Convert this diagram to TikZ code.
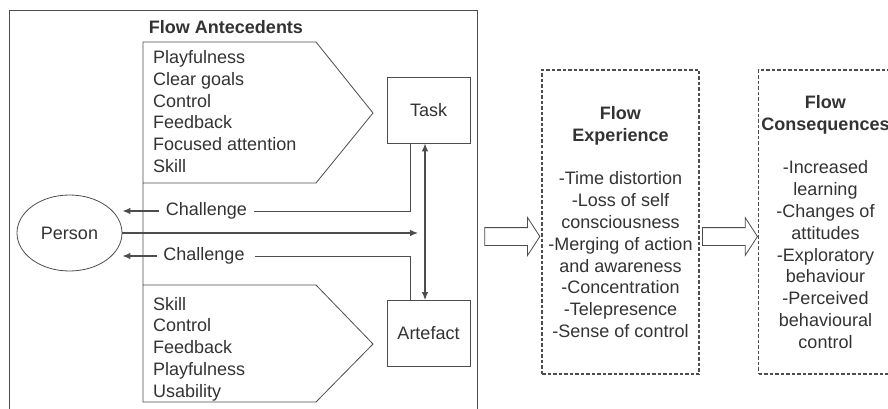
\documentclass[tikz,border=0pt]{standalone}
\usepackage{fontspec}
\setmainfont{Liberation Sans}
\usetikzlibrary{positioning,calc,shapes.geometric,shapes.arrows,arrows.meta}
\definecolor{ink}{HTML}{333333}
\definecolor{rule}{HTML}{4D4D4D}

\begin{document}
\begin{tikzpicture}[x=1pt,y=-1pt,font=\fontsize{18}{21.8}\selectfont,text=ink,
  >={Latex[length=8pt,width=6.5pt]},
  link/.style={draw=rule,line width=0.8pt},
  pointer/.style={draw=rule,line width=1.2pt,->},
  box/.style={draw=rule,line width=0.8pt,minimum width=83pt,minimum height=66pt,inner sep=0pt},
  item/.style={align=left,inner sep=0pt,anchor=west},
  flowbox/.style={draw=rule,line width=1.1pt,dash pattern=on 3.5pt off 2pt,minimum height=304pt,align=center,inner sep=0pt},
  hollow/.style={draw=rule,line width=0.8pt,single arrow,minimum height=55pt,minimum width=37pt,inner sep=8.5pt,single arrow head extend=10pt,single arrow tip angle=114}]
  \clip (0,0) rectangle (888,409);
  \fill[white] (0,0) rectangle (888,409);
  % antecedents frame, open at the bottom
  \draw[link] (9,420) -- (9,10) -- (477,10) -- (477,420);
  \node[font=\fontsize{18}{21.8}\selectfont\bfseries] (ante) at (226,27) {Flow Antecedents};
  \draw[link] (143,183) -- (316,183) -- (373,113) -- (316,42) -- (143,42) -- (143,402) -- (316,402) -- (373,344) -- (316,285) -- (143,285);
  \node[item] (tasklist) at (153,111.5) {Playfulness\\Clear goals\\Control\\Feedback\\Focused attention\\Skill};
  \node[item] (artlist) at (153,349) {Skill\\Control\\Feedback\\Playfulness\\Usability};
  \node[box] (task) at (428.5,110) {Task};
  \node[box] (art) at (428.5,333.5) {Artefact};
  \node[draw=rule,ellipse,line width=0.8pt,minimum width=105pt,minimum height=76pt,inner sep=0pt] (person) at (69.5,233) {Person};
  \node[inner sep=0pt] (chtop) at (206.5,211) {Challenge};
  \node[inner sep=0pt] (chbot) at (204,256) {Challenge};
  \coordinate (pend) at (418,233);
  \draw[link] ($(task.south)+(-18,0)$) |- ([xshift=7pt]chtop.east);
  \draw[pointer] ([xshift=-7pt]chtop.west) -- (chtop.west -| person.east);
  \draw[link] ($(art.north)+(-18,0)$) |- ([xshift=10pt]chbot.east);
  \draw[pointer] ([xshift=-6pt]chbot.west) -- (chbot.west -| person.east);
  \draw[pointer] (person.east) -- (pend);
  \draw[pointer,<->] ($(task.south)+(-3.5,0)$) -- ($(art.north)+(-3.5,0)$);
  % experience and consequences
  \node[flowbox,minimum width=157pt] (exp) at (620.5,222) {\textbf{Flow}\\\textbf{Experience}\\[21.8pt]-Time distortion\\-Loss of self\\consciousness\\-Merging of action\\and awareness\\-Concentration\\-Telepresence\\-Sense of control};
  \node[flowbox,minimum width=134pt] (cons) at (825.5,222) {\textbf{Flow}\\\textbf{Consequences}\\[21.8pt]-Increased\\learning\\-Changes of\\attitudes\\-Exploratory\\behaviour\\-Perceived\\behavioural\\control};
  \node[hollow] (hin) at ($(exp.west)+(-32,14.5)$) {};
  \node[hollow] (hout) at ($(exp.east)+(27.5,14.5)$) {};
\end{tikzpicture}
\end{document}
